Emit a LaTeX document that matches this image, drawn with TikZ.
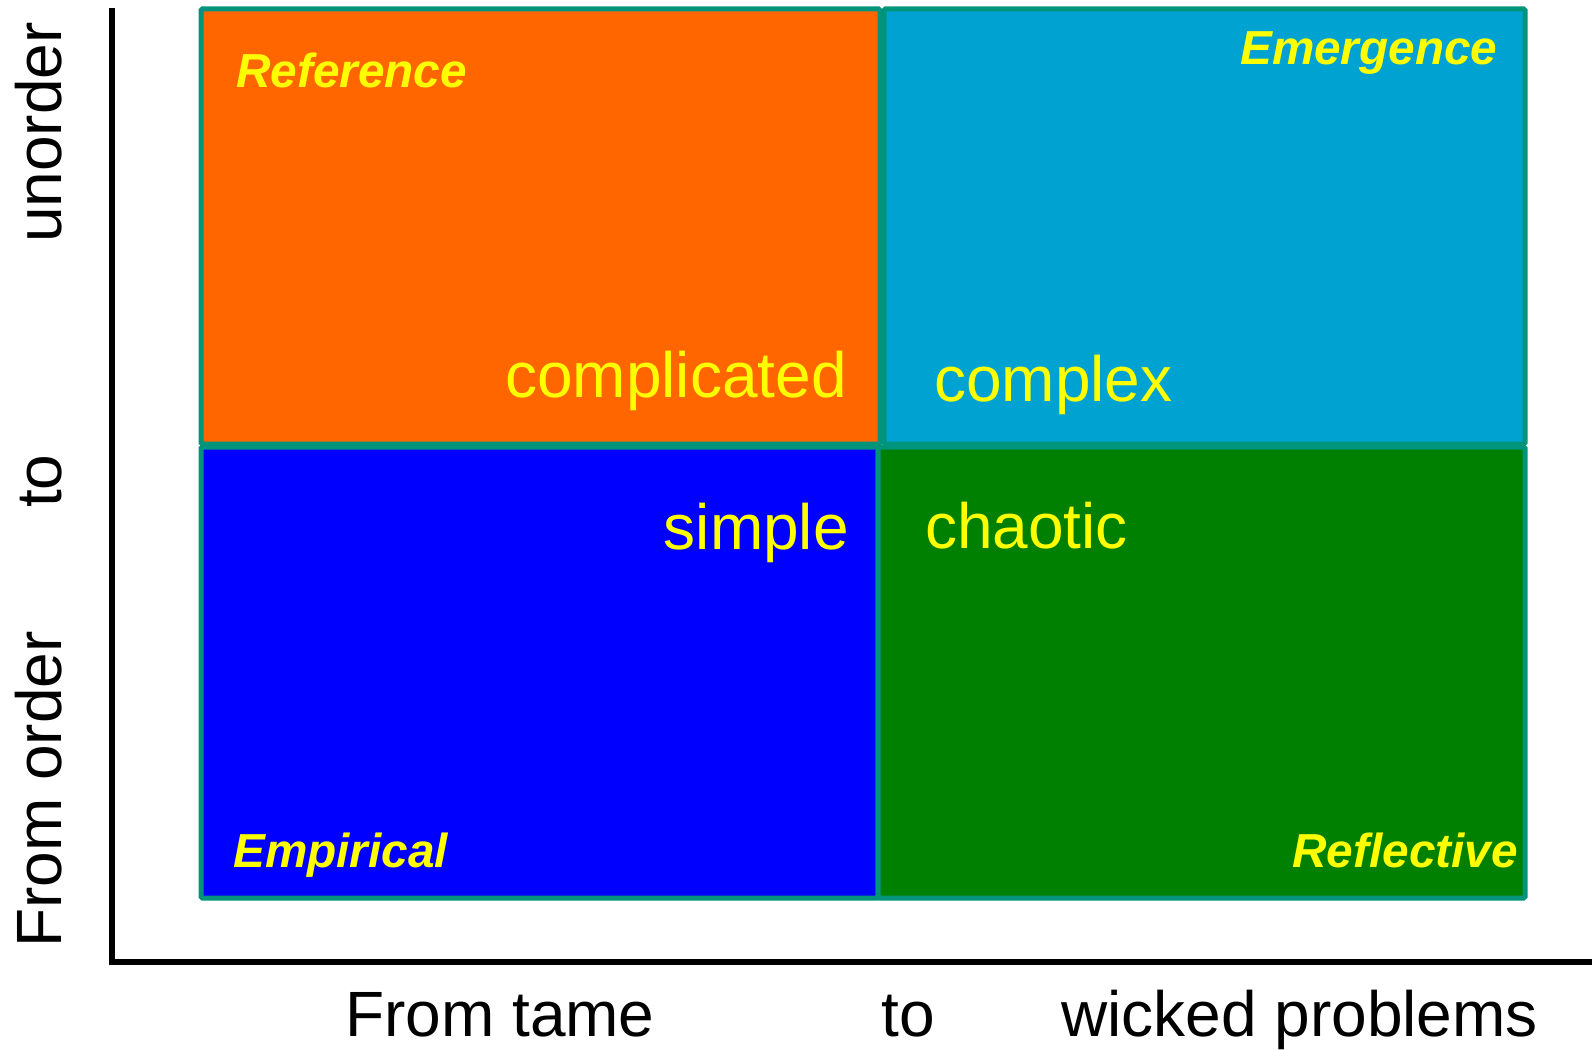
\documentclass[tikz,border=0pt]{standalone}
\usepackage{fontspec}
\setmainfont{Liberation Sans}
\usepackage{xcolor}
\usepackage{tikz}
\usetikzlibrary{positioning}
\definecolor{orange}{HTML}{FF6600}
\definecolor{sky}{HTML}{00A2D2}
\definecolor{blue}{HTML}{0000FF}
\definecolor{green}{HTML}{008000}
\definecolor{edge}{HTML}{00957A}
\definecolor{yellowtext}{HTML}{FFFF00}
\tikzset{
  quad/.style={
    rectangle,draw=edge,line width=5pt,rounded corners=1.5pt,
    inner sep=0pt,outer sep=0pt,anchor=north west
  },
  domaintext/.style={
    inner sep=0pt,text=yellowtext,font=\fontsize{64}{70}\selectfont
  },
  approach/.style={
    inner sep=0pt,text=yellowtext,font=\fontsize{47.7}{52}\selectfont\bfseries\itshape
  },
  axislabel/.style={
    inner sep=0pt,text=black,font=\fontsize{64}{70}\selectfont
  },
  axisline/.style={draw=black,line width=5.5pt},
  axisshadow/.style={draw=black!18,line width=5pt}
}

\begin{document}
\begin{tikzpicture}[x=1pt,y=-1pt]
\useasboundingbox (0,0) rectangle (1592,1049);

% the four quadrants
\node[quad,fill=orange,minimum width=679pt,minimum height=435pt] (cmpl) at (201,9) {};
\node[quad,fill=sky,minimum width=641pt,minimum height=435pt] (cmplx) at (884,9) {};
\node[quad,fill=blue,minimum width=677pt,minimum height=451pt] (simp) at (201,447) {};
\node[quad,fill=green,minimum width=647pt,minimum height=451pt] (chao) at (878,447) {};

\node[domaintext,anchor=base east] (cmpltxt) at (847,397) {complicated};
\node[domaintext,anchor=base west] (cmplxtxt) at (934,401) {complex};
\node[domaintext,anchor=base east] (simptxt) at (849,549) {simple};
\node[domaintext,anchor=base west] (chaotxt) at (925,548) {chaotic};

\node[approach,anchor=base west] (ref) at (236,88) {Reference};
\node[approach,anchor=base west] (emer) at (1240,65) {Emergence};
\node[approach,anchor=base west] (emp) at (233,867) {Empirical};
\node[approach,anchor=base east] (refl) at (1518,867) {Reflective};

% axes
\coordinate (ytop) at (112,8);
\coordinate (origin) at (112,962);
\coordinate (xend) at (1592,962);
\draw[axisshadow,shift={(3,3)}] (ytop) -- (origin) -- (xend);
\draw[axisline] (ytop) -- (origin) -- (xend);

\node[axislabel,anchor=base west] (tame) at (345,1036) {From tame};
\node[axislabel,anchor=base west] (xto) at (881,1036) {to};
\node[axislabel,anchor=base west] (wicked) at (1061,1036) {wicked problems};

\node[axislabel,anchor=base west,rotate=90] (order) at (61,948) {From order};
\node[axislabel,anchor=base west,rotate=90] (yto) at (61,508) {to};
\node[axislabel,anchor=base west,rotate=90] (unorder) at (61,243) {unorder};
\end{tikzpicture}
\end{document}
